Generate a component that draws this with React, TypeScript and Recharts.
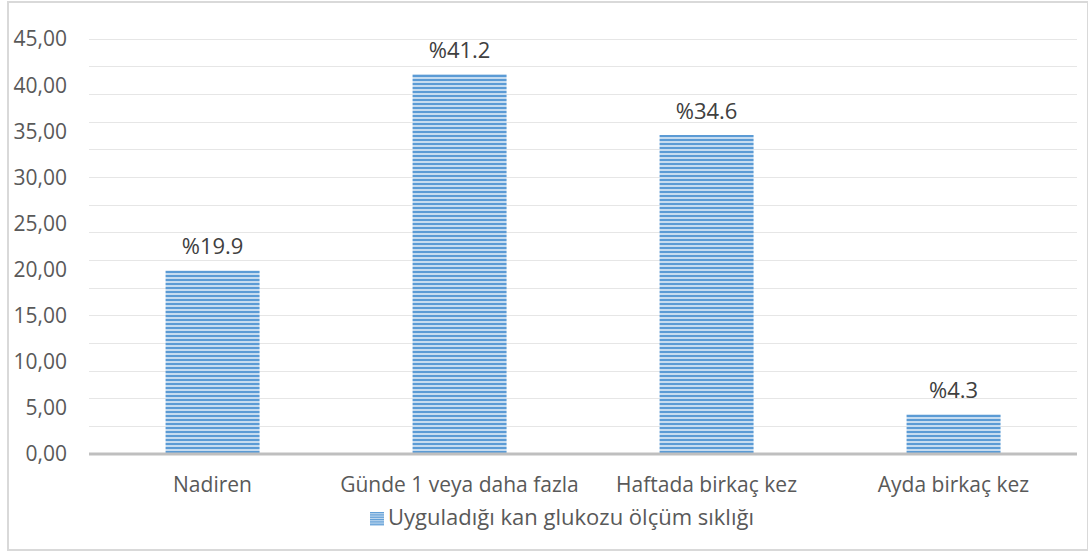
import { BarChart, Bar, XAxis, YAxis, CartesianGrid, Legend, LabelList } from 'recharts';

const categories = ['Nadiren', 'Günde 1 veya daha fazla', 'Haftada birkaç kez', 'Ayda birkaç kez'];
const values = [19.9, 41.2, 34.6, 4.3];
const yTicks = [0, 5, 10, 15, 20, 25, 30, 35, 40, 45];
const gridValues = Array.from({ length: 46 }, (_, i) => i);
const seriesName = 'Uyguladığı kan glukozu ölçüm sıklığı';

const data = categories.map((name, i) => ({ name, value: values[i] }));

const FONT = '"Open Sans", "Noto Sans", sans-serif';
const TEXT = '#595959';

export default function App() {
  return (
    <div
      style={{
        position: 'absolute',
        left: 7,
        top: 1,
        width: 1078,
        height: 546,
        border: '2px solid #D9D9D9',
        background: '#fff',
        fontFamily: FONT,
      }}
    >
      <BarChart
        width={1078}
        height={546}
        data={data}
        barCategoryGap="31%"
        margin={{ top: 36, right: 10, bottom: 19, left: 0 }}
      >
        <defs>
          <pattern id="stripes" width="6" height="4" patternUnits="userSpaceOnUse">
            <rect width="6" height="4" fill="#C6DCF0" />
            <rect width="6" height="2" fill="#5B9BD5" />
          </pattern>
        </defs>
        <CartesianGrid
          vertical={false}
          horizontalValues={gridValues}
          stroke="#E6E6E6"
          strokeWidth={1}
          shapeRendering="crispEdges"
        />
        <XAxis
          dataKey="name"
          axisLine={{ stroke: '#BFBFBF', strokeWidth: 3 }}
          tickLine={false}
          tickSize={0}
          tickMargin={23}
          height={46}
          interval={0}
          tick={{ fill: TEXT, fontSize: 21, fontFamily: FONT }}
        />
        <YAxis
          domain={[0, 45]}
          ticks={yTicks}
          width={80}
          axisLine={false}
          tickLine={false}
          tickSize={0}
          tickMargin={22}
          tickFormatter={(v: number) => v.toFixed(2).replace('.', ',')}
          tick={{ fill: TEXT, fontSize: 21, fontFamily: FONT }}
        />
        <Legend
          verticalAlign="bottom"
          iconType="square"
          iconSize={14}
          wrapperStyle={{ fontSize: 22, fontFamily: FONT, color: TEXT, bottom: 18, left: 24 }}
          formatter={(v: string) => <span style={{ color: TEXT }}>{v}</span>}
        />
        <Bar dataKey="value" name={seriesName} fill="url(#stripes)" isAnimationActive={false}>
          <LabelList
            dataKey="value"
            position="top"
            offset={16}
            formatter={(v: number) => `%${v}`}
            style={{ fill: '#404040', fontSize: 22, fontFamily: FONT }}
          />
        </Bar>
      </BarChart>
    </div>
  );
}
